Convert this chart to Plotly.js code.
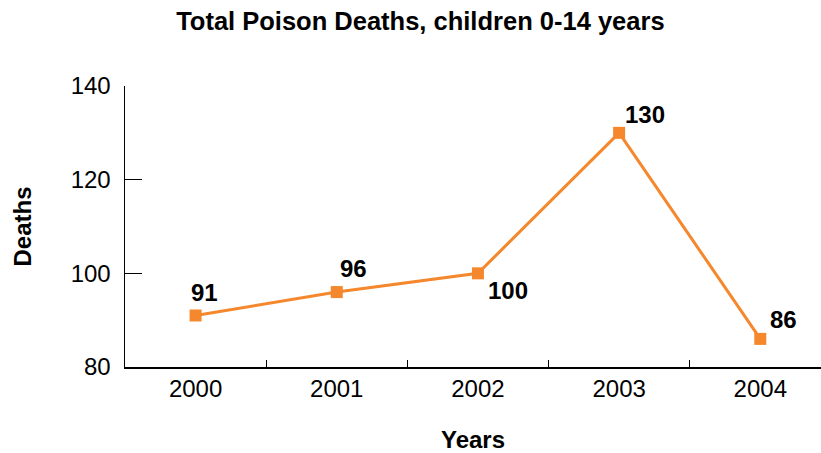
<!DOCTYPE html>
<html>
<head>
<meta charset="utf-8">
<script src="https://cdn.plot.ly/plotly-3.0.1.min.js"></script>
<style>html,body{margin:0;padding:0;background:#fff;}#chart{width:821px;height:453px;}</style>
</head>
<body>
<div id="chart"></div>
<script>
var years = ["2000", "2001", "2002", "2003", "2004"];
var deaths = [91, 96, 100, 130, 86];
var labelShiftX = [9, 17, 30, 26, 23];
var labelShiftY = [23, 24, -17, 18, 19];

var FONT = "Liberation Sans, Arial, Helvetica, sans-serif";
var ORANGE = "#F5872C";

var trace = {
  type: "scatter",
  mode: "lines+markers",
  x: years.map(function (y, i) { return i; }),
  y: deaths,
  line: {color: ORANGE, width: 3},
  marker: {symbol: "square", size: 12, color: ORANGE},
  hoverinfo: "y"
};

var annotations = years.map(function (yr, i) {
  return {
    x: i, y: deaths[i], xref: "x", yref: "y",
    text: "<b>" + deaths[i] + "</b>",
    showarrow: false,
    xanchor: "center", yanchor: "middle",
    xshift: labelShiftX[i], yshift: labelShiftY[i],
    font: {family: FONT, size: 24, color: "#000"}
  };
});

var layout = {
  width: 821, height: 453,
  margin: {l: 125, r: 0, t: 86, b: 86},
  paper_bgcolor: "#fff", plot_bgcolor: "#fff",
  showlegend: false,
  font: {family: FONT, size: 24, color: "#000"},
  title: {
    text: "<b>Total Poison Deaths, children 0-14 years</b>",
    font: {family: FONT, size: 25.5, color: "#000"},
    x: 0.512, xref: "container", xanchor: "center",
    y: 0.953, yref: "container", yanchor: "middle"
  },
  xaxis: {
    type: "linear",
    range: [-0.5, 4.43],
    tickmode: "array",
    tickvals: [0, 1, 2, 3, 4],
    ticktext: years,
    minor: {tickvals: [0.5, 1.5, 2.5, 3.5], ticks: "inside", ticklen: 7, tickwidth: 1.2, tickcolor: "#000", showgrid: false},
    showline: true, linecolor: "#000", linewidth: 1.5,
    showgrid: false, zeroline: false,
    ticks: "",
    tickfont: {family: FONT, size: 24, color: "#000"},
    title: {text: "<b>Years</b>", font: {family: FONT, size: 24, color: "#000"}, standoff: 36},
    fixedrange: true
  },
  yaxis: {
    range: [80, 140],
    tickvals: [80, 100, 120, 140],
    showline: true, linecolor: "#000", linewidth: 1.5,
    showgrid: false, zeroline: false,
    ticks: "inside", ticklen: 17, tickwidth: 1.5, tickcolor: "#000",
    ticklabelstandoff: 8,
    tickfont: {family: FONT, size: 24, color: "#000"},
    title: {text: "<b>Deaths</b>", font: {family: FONT, size: 24, color: "#000"}, standoff: 32},
    fixedrange: true
  },
  annotations: annotations
};

Plotly.newPlot("chart", [trace], layout, {displayModeBar: false, staticPlot: true});
</script>
</body>
</html>
